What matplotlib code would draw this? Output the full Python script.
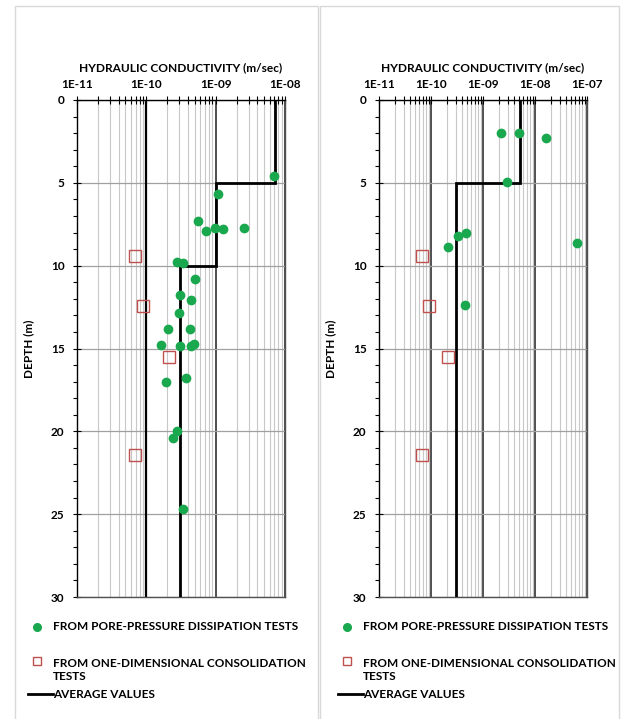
import numpy as np
import matplotlib
matplotlib.use("Agg")
import matplotlib.pyplot as plt
from matplotlib.lines import Line2D
from matplotlib.patches import Rectangle
from matplotlib.ticker import FixedLocator, FuncFormatter

plt.rcParams["font.family"] = ["Lato", "DejaVu Sans"]
plt.rcParams["font.weight"] = "bold"

# DATA
# left profile
left_pore_k = [7.0e-9, 1.07e-9, 5.6e-10, 7.3e-10, 9.7e-10, 1.27e-9, 2.6e-9,
               2.75e-10, 3.35e-10, 5.1e-10, 3.05e-10, 4.4e-10, 2.95e-10,
               2.05e-10, 4.3e-10, 1.65e-10, 3.1e-10, 4.4e-10, 4.8e-10,
               3.7e-10, 1.9e-10, 2.75e-10, 2.45e-10, 3.4e-10]
left_pore_depth = [4.6, 5.7, 7.3, 7.9, 7.75, 7.8, 7.7,
                   9.8, 9.85, 10.8, 11.8, 12.05, 12.85,
                   13.8, 13.8, 14.8, 14.85, 14.85, 14.7,
                   16.8, 17.0, 19.95, 20.4, 24.7]
left_avg_top = [0, 5, 10]
left_avg_bottom = [5, 10, 30]
left_avg_k = [7.2e-9, 1.0e-9, 3.05e-10]

# right profile
right_pore_k = [2.2e-9, 5.0e-9, 1.6e-8, 2.9e-9, 2.1e-10, 3.25e-10, 4.8e-10,
                6.3e-8, 4.5e-10]
right_pore_depth = [2.0, 2.0, 2.3, 4.95, 8.9, 8.2, 8.0, 8.65, 12.4]
right_avg_top = [0, 5]
right_avg_bottom = [5, 30]
right_avg_k = [5.1e-9, 3.05e-10]

# consolidation tests (same in both panels)
cons_k = [6.8e-11, 9.0e-11, 2.15e-10, 6.8e-11]
cons_depth = [9.4, 12.45, 15.5, 21.4]

W, H = 629, 719
GREEN = "#1aa84f"
RED = "#c0504d"

fig = plt.figure(figsize=(W / 100, H / 100), dpi=100)


def fx(px):
    return px / W


def fy(py):
    return 1 - py / H


# panel frames
for x0, x1 in [(15, 318), (320, 619)]:
    fig.add_artist(Rectangle((fx(x0), fy(730)), fx(x1) - fx(x0), fy(6) - fy(730),
                             transform=fig.transFigure, fill=False,
                             edgecolor="#d9d9d9", lw=1.0))


def panel(left_px, decades, pore_k, pore_d, avg_top, avg_bot, avg_k, dark=None):
    ax = fig.add_axes([fx(left_px), fy(597), fx(208), fy(100) - fy(597)])
    ax.set_xscale("log")
    ax.set_xlim(10.0 ** decades[0], 10.0 ** decades[-1])
    ax.set_ylim(30, 0)

    majors = [10.0 ** d for d in decades]
    minors = [m * 10.0 ** d for d in decades[:-1] for m in range(2, 10)]
    ax.xaxis.set_major_locator(FixedLocator(majors))
    ax.xaxis.set_minor_locator(FixedLocator(minors))
    ax.xaxis.set_major_formatter(FuncFormatter(lambda v, p: "1E%03d" % int(round(np.log10(v)))))
    ax.xaxis.set_minor_formatter(FuncFormatter(lambda v, p: ""))
    ax.xaxis.tick_top()
    ax.xaxis.set_label_position("top")

    ax.yaxis.set_major_locator(FixedLocator([0, 5, 10, 15, 20, 25, 30]))
    ax.yaxis.set_minor_locator(FixedLocator(np.arange(0, 31, 1)))

    ax.tick_params(axis="x", which="major", direction="inout", length=6, width=0.8,
                   labelsize=8.5, pad=4, colors="black")
    ax.tick_params(axis="x", which="minor", direction="inout", length=6, width=0.8)
    ax.tick_params(axis="y", which="major", direction="inout", length=6, width=0.8,
                   labelsize=8.5, pad=6)
    ax.tick_params(axis="y", which="minor", direction="out", length=3, width=0.8)

    ax.grid(which="major", axis="x", color="#404040", lw=1.3)
    ax.grid(which="minor", axis="x", color="#c8c8c8", lw=0.8)
    ax.grid(which="major", axis="y", color="#a0a0a0", lw=0.9)
    ax.set_axisbelow(True)
    if dark is not None:
        ax.axvline(dark, color="black", lw=1.6, zorder=1)

    for s in ["left", "top"]:
        ax.spines[s].set_color("black")
        ax.spines[s].set_linewidth(1.0)
    for s in ["right", "bottom"]:
        ax.spines[s].set_color("#505050")
        ax.spines[s].set_linewidth(1.0)

    ax.set_xlabel("HYDRAULIC CONDUCTIVITY (m/sec)", fontsize=8.6, fontweight="bold",
                  labelpad=6)
    ax.set_ylabel("DEPTH (m)", fontsize=8.5, fontweight="bold", labelpad=12)

    # average step line
    ys = np.column_stack([avg_top, avg_bot]).ravel()
    xs = np.repeat(avg_k, 2)
    ax.plot(xs, ys, color="black", lw=2.0, zorder=3, solid_joinstyle="miter")

    ax.plot(cons_k, cons_depth, linestyle="none", marker="s", ms=8.5,
            mfc="none", mec=RED, mew=1.0, zorder=4)
    ax.plot(pore_k, pore_d, linestyle="none", marker="o", ms=6,
            mfc=GREEN, mec=GREEN, zorder=5)
    return ax


panel(77, [-11, -10, -9, -8], left_pore_k, left_pore_depth,
      left_avg_top, left_avg_bottom, left_avg_k, dark=1e-10)
panel(379, [-11, -10, -9, -8, -7], right_pore_k, right_pore_depth,
      right_avg_top, right_avg_bottom, right_avg_k)

# legends
legend_labels = ["FROM PORE-PRESSURE DISSIPATION TESTS",
                 "FROM ONE-DIMENSIONAL CONSOLIDATION\nTESTS",
                 "AVERAGE VALUES"]
for mx in [37, 347]:
    tx = mx + 16
    fig.add_artist(Line2D([fx(mx)], [fy(627)], marker="o", ms=5.5, mfc=GREEN,
                          mec=GREEN, linestyle="none", transform=fig.transFigure))
    fig.text(fx(tx), fy(627), legend_labels[0], fontsize=8.5, fontweight="bold",
             va="center", ha="left")
    fig.add_artist(Line2D([fx(mx)], [fy(661)], marker="s", ms=6, mfc="none",
                          mec=RED, mew=1.0, linestyle="none",
                          transform=fig.transFigure))
    fig.text(fx(tx), fy(670), legend_labels[1], fontsize=8.5, fontweight="bold",
             va="center", ha="left", linespacing=1.3)
    fig.add_artist(Line2D([fx(mx - 9), fx(tx)], [fy(694), fy(694)], color="black",
                          lw=2.0, transform=fig.transFigure))
    fig.text(fx(tx), fy(694), legend_labels[2], fontsize=8.5, fontweight="bold",
             va="center", ha="left")

fig.savefig("out.png", dpi=100)
